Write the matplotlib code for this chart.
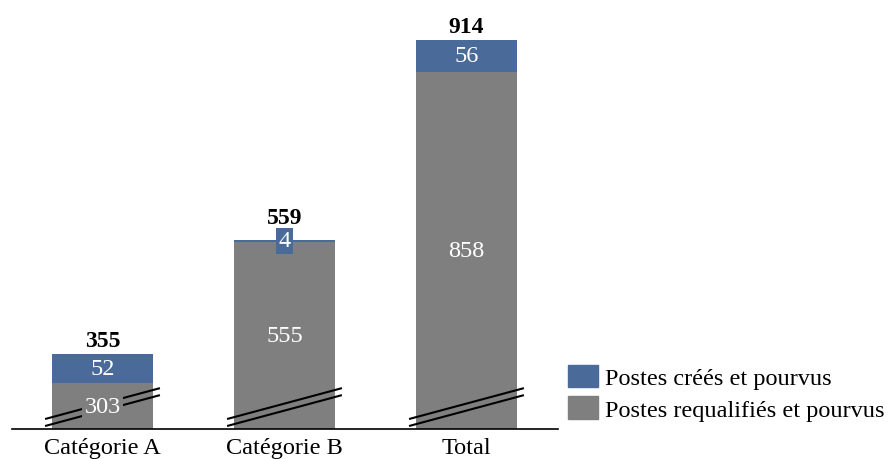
import matplotlib
matplotlib.use("Agg")
import matplotlib.pyplot as plt
from matplotlib.patches import Patch
import numpy as np

categories = ["Catégorie A", "Catégorie B", "Total"]
requalifies = [303, 555, 858]
crees = [52, 4, 56]
totals = [355, 559, 914]
series_names = ["Postes créés et pourvus", "Postes requalifiés et pourvus"]

BLUE = "#4A6A9A"
GRAY = "#7F7F7F"
FONT = "Liberation Serif"
FS = 17.5

plt.rcParams['font.family'] = [FONT, 'DejaVu Serif']

W, H = 892, 460
fig = plt.figure(figsize=(W / 100, H / 100), dpi=100)
ax_left, ax_right, ax_bottom_px, ax_top_px = 11.5, 557.5, 430, 21
ax = fig.add_axes([ax_left / W, (H - ax_bottom_px) / H,
                   (ax_right - ax_left) / W, (ax_bottom_px - ax_top_px) / H])

ymin, ymax = 221.5, 950
x = np.arange(len(categories))
width = 0.555

ax.bar(x, requalifies, width, color=GRAY, zorder=1)
ax.bar(x, crees, width, bottom=requalifies, color=BLUE, zorder=1)
ax.set_xlim(-0.5, 2.5)
ax.set_ylim(ymin, ymax)

# axis break marks (decoration)
ext = 0.038
yr = ymax - ymin
for xi in x:
    xs = [xi - width / 2 - ext, xi + width / 2 + ext]
    for off in (0.0, -0.0171):
        ys = [ymin + yr * (0.0244 + off), ymin + yr * (0.0999 + off)]
        ax.plot(xs, ys, color="black", lw=1.5, zorder=2, solid_capstyle="butt")

# labels
for xi, g, b, t in zip(x, requalifies, crees, totals):
    gc = (ymin + g) / 2
    ax.text(xi, gc, str(g), ha="center", va="center", color="white",
            fontsize=FS, zorder=3,
            bbox=dict(boxstyle="square,pad=0.08", fc=GRAY, ec="none"))
    ax.text(xi, g + b / 2, str(b), ha="center", va="center", color="white",
            fontsize=FS, zorder=3,
            bbox=dict(boxstyle="square,pad=0.1", fc=BLUE, ec="none"))
    seg_px = b * (ax_bottom_px - ax_top_px) / (ymax - ymin)
    extra = 0 if seg_px > 20 else 9
    ax.annotate(str(t), (xi, t), xytext=(0, 3 + extra), textcoords="offset pixels",
                ha="center", va="bottom", fontsize=FS - 0.5, fontweight="bold")

for s in ["left", "right", "top"]:
    ax.spines[s].set_visible(False)
ax.spines["bottom"].set_linewidth(1.2)
ax.set_yticks([])
ax.set_xticks(x)
ax.set_xticklabels(categories, fontsize=FS)
ax.tick_params(axis="x", length=0, pad=6)

handles = [Patch(color=BLUE), Patch(color=GRAY)]
fig.legend(handles, series_names, loc="upper left",
           bbox_to_anchor=(558 / W, 1 - 356 / H), frameon=False,
           fontsize=FS, handlelength=1.25, handleheight=1.05,
           handletextpad=0.3, labelspacing=0.28, borderaxespad=0)

fig.savefig("out.png", dpi=100)
